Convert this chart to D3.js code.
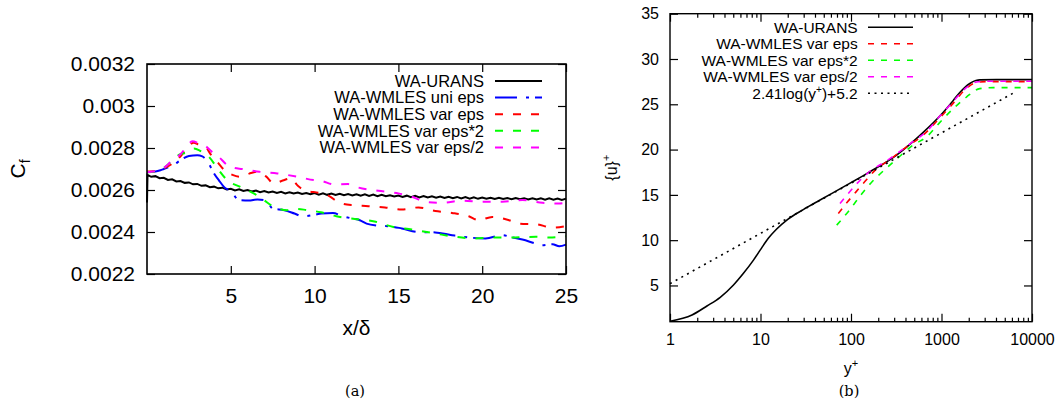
<!DOCTYPE html>
<html>
<head>
<meta charset="utf-8">
<script src="https://cdn.jsdelivr.net/npm/d3@7"></script>
<style>
  html, body { margin: 0; padding: 0; background: #fff; }
  svg { display: block; }
</style>
</head>
<body>
<svg id="fig" width="1061" height="401"></svg>
<script>
// ---------- Panel (a): skin friction coefficient vs x/delta ----------
const xDeltaTicks = [5, 10, 15, 20, 25];
const xDeltaTickLabels = ["5", "10", "15", "20", "25"];
const cfTicks = [0.0022, 0.0024, 0.0026, 0.0028, 0.003, 0.0032];
const cfTickLabels = ["0.0022", "0.0024", "0.0026", "0.0028", "0.003", "0.0032"];

const uransX = [0, 0.03, 0.25, 0.5, 0.75, 1, 1.25, 1.5, 1.75, 2, 2.25, 2.5, 2.75, 3, 3.25, 3.5, 3.75, 4,
  4.25, 4.5, 4.75, 5, 5.25, 5.5, 5.75, 6, 6.25, 6.5, 6.75, 7, 7.25, 7.5, 7.75, 8, 8.25, 8.5, 8.75, 9,
  9.25, 9.5, 9.75, 10, 10.25, 10.5, 10.75, 11, 11.25, 11.5, 11.75, 12, 12.25, 12.5, 12.75, 13,
  13.25, 13.5, 13.75, 14, 14.25, 14.5, 14.75, 15, 15.25, 15.5, 15.75, 16, 16.25, 16.5, 16.75, 17,
  17.25, 17.5, 17.75, 18, 18.25, 18.5, 18.75, 19, 19.25, 19.5, 19.75, 20, 20.25, 20.5, 20.75, 21,
  21.25, 21.5, 21.75, 22, 22.25, 22.5, 22.75, 23, 23.25, 23.5, 23.75, 24, 24.25, 24.5, 24.75, 25];
const uransCf = [0.002540, 0.002672, 0.002663, 0.002666, 0.002656, 0.002658, 0.002648, 0.002651, 0.002641, 0.002643,
  0.002634, 0.002636, 0.002627, 0.002629, 0.002620, 0.002622, 0.002613, 0.002616,
  0.002608, 0.002611, 0.002603, 0.002606, 0.002598, 0.002603, 0.002595, 0.002600,
  0.002593, 0.002597, 0.002590, 0.002595, 0.002588, 0.002593, 0.002586, 0.002591,
  0.002584, 0.002589, 0.002583, 0.002588, 0.002581, 0.002586, 0.002580, 0.002585,
  0.002578, 0.002584, 0.002577, 0.002583, 0.002576, 0.002582, 0.002575, 0.002581,
  0.002574, 0.002580, 0.002573, 0.002579, 0.002572, 0.002578, 0.002571, 0.002577,
  0.002570, 0.002575, 0.002569, 0.002574, 0.002567, 0.002573, 0.002566, 0.002572,
  0.002565, 0.002571, 0.002564, 0.002570, 0.002563, 0.002569, 0.002562, 0.002568,
  0.002561, 0.002567, 0.002560, 0.002566, 0.002559, 0.002565, 0.002558, 0.002564,
  0.002558, 0.002563, 0.002557, 0.002563, 0.002557, 0.002562, 0.002556, 0.002562,
  0.002556, 0.002561, 0.002555, 0.002561, 0.002555, 0.002560, 0.002554, 0.002560,
  0.002554, 0.002559, 0.002553, 0.002559];

const uniEpsX = [0, 0.5, 0.8, 1.0, 1.58, 2.08, 2.5, 3.0, 3.3, 3.68, 3.94, 4.3, 4.68, 5.0, 5.47, 6.07, 6.6, 7.1,
  7.5, 8.2, 8.8, 9.3, 10, 10.4, 11.1, 11.6, 12.2, 12.7, 13.1, 13.8, 14.6, 15.2, 16.2, 17.2, 18.2,
  19.2, 20.2, 21.2, 21.8, 22.4, 23.2, 23.6, 24.2, 24.6, 25];
const uniEpsCf = [0.002685, 0.002688, 0.002694, 0.002700, 0.002719, 0.002746, 0.002762, 0.002765, 0.002760,
  0.002727, 0.002687, 0.002645, 0.002608, 0.002597, 0.002552, 0.002550, 0.002555, 0.002550,
  0.002512, 0.002504, 0.002488, 0.002474, 0.002482, 0.002488, 0.002490, 0.002477, 0.002465,
  0.002456, 0.002440, 0.002430, 0.002426, 0.002417, 0.002400, 0.002398, 0.002385, 0.002374,
  0.002369, 0.002385, 0.002374, 0.002364, 0.002345, 0.002337, 0.002342, 0.002332, 0.002340];

const varEpsX = [0, 0.5, 1.0, 1.5, 2.0, 2.4, 2.78, 3.1, 3.48, 3.8, 4.18, 4.68, 5.1, 5.57, 6.1, 6.58, 7.1, 7.57,
  8.1, 8.57, 9.0, 9.37, 10.37, 10.9, 11.37, 12.2, 13.2, 14.2, 15.2, 16.2, 17.2, 18.2, 19.2, 19.8,
  20.6, 21.6, 22.2, 23.2, 24.2, 25];
const varEpsCf = [0.002688, 0.002690, 0.002703, 0.002725, 0.002760, 0.002800, 0.002825, 0.002815, 0.002806,
  0.002770, 0.002735, 0.002690, 0.002672, 0.002663, 0.002678, 0.002687, 0.002665, 0.002631,
  0.002645, 0.002655, 0.002620, 0.002600, 0.002584, 0.002570, 0.002544, 0.002528, 0.002523,
  0.002517, 0.002507, 0.002517, 0.002500, 0.002491, 0.002475, 0.002456, 0.002472, 0.002456,
  0.002440, 0.002437, 0.002421, 0.002428];

const varEps2X = [0, 0.5, 1.0, 1.5, 1.9, 2.4, 2.8, 3.2, 3.68, 4.28, 4.78, 5.57, 6.37, 6.97, 7.57, 8.37, 8.9,
  9.5, 10.37, 11.3, 12.2, 13.57, 14.7, 15.8, 17.2, 18.4, 19.6, 20.6, 21.6, 23.2, 24, 25];
const varEps2Cf = [0.002684, 0.002688, 0.002705, 0.002740, 0.002767, 0.002780, 0.002798, 0.002785, 0.002759,
  0.002695, 0.002647, 0.002615, 0.002584, 0.002552, 0.002520, 0.002504, 0.002510, 0.002505,
  0.002494, 0.002475, 0.002464, 0.002450, 0.002424, 0.002412, 0.002393, 0.002377, 0.002369,
  0.002374, 0.002374, 0.002377, 0.002374, 0.002380];

const varEpsHalfX = [0, 0.5, 1.0, 1.5, 2.0, 2.4, 2.7, 3.1, 3.48, 3.9, 4.28, 4.78, 5.2, 5.68, 6.7, 7.77, 8.97,
  9.97, 10.37, 11.2, 12.0, 12.6, 13.8, 15.0, 15.8, 16.6, 17.6, 18.8, 20.0, 21.2, 22.4, 23.6, 24.6, 25];
const varEpsHalfCf = [0.002684, 0.002690, 0.002705, 0.002740, 0.002770, 0.002810, 0.002832, 0.002822, 0.002810,
  0.002780, 0.002758, 0.002719, 0.002705, 0.002700, 0.002687, 0.002679, 0.002663, 0.002647,
  0.002644, 0.002626, 0.002628, 0.002612, 0.002596, 0.002584, 0.002568, 0.002544, 0.002539,
  0.002549, 0.002544, 0.002544, 0.002552, 0.002539, 0.002536, 0.002539];

const legendA = ["WA-URANS", "WA-WMLES uni eps", "WA-WMLES var eps", "WA-WMLES var eps*2", "WA-WMLES var eps/2"];

// ---------- Panel (b): mean velocity profile ----------
const yPlusTicks = [1, 10, 100, 1000, 10000];
const yPlusTickLabels = ["1", "10", "100", "1000", "10000"];
const uPlusTicks = [5, 10, 15, 20, 25, 30, 35];
const uPlusTickLabels = ["5", "10", "15", "20", "25", "30", "35"];

const uransYp = [1, 1.75, 2.56, 3.59, 5.03, 6.48, 8.36, 9.91, 12.2, 15, 20, 30, 45, 100, 149, 319,
  628, 1000, 1343, 1593, 2055, 2400, 2650, 4048, 10000];
const uransU = [1.05, 1.74, 2.73, 3.69, 5.05, 6.34, 7.8, 8.9, 10.2, 11.2, 12.3, 13.4, 14.4, 16.35, 17.35, 19.4,
  21.9, 23.9, 25.4, 26.3, 27.3, 27.62, 27.7, 27.72, 27.72];

const varEpsYp = [72.4, 89.7, 113.6, 143, 184, 269, 411, 628, 959, 1343, 1811, 2437, 3143, 10000];
const varEpsU = [12.95, 14.12, 15.33, 16.5, 17.7, 18.9, 20.3, 21.6, 23.5, 25.1, 26.6, 27.4, 27.5, 27.5];

const varEps2Yp = [69.5, 89.7, 110.7, 136.7, 169, 209, 332, 486, 684, 959, 1343, 1888, 2650, 3715, 10000];
const varEps2U = [11.66, 12.95, 14.12, 15.33, 16.4, 17.3, 19.1, 20.5, 21.4, 23.0, 24.5, 25.8, 26.73, 26.84, 26.84];

const varEpsHalfYp = [75.6, 93.4, 117.5, 149, 269, 486, 684, 959, 1343, 1811, 2437, 3000, 10000];
const varEpsHalfU = [14.05, 15.16, 16.3, 17.3, 19.0, 20.9, 22.0, 23.7, 25.3, 26.7, 27.46, 27.55, 27.55];

const logLawYp = [1, 6500];
const logLawU = [5.2, 26.35];

const legendB = ["WA-URANS", "WA-WMLES var eps", "WA-WMLES var eps*2", "WA-WMLES var eps/2"];

// ---------- drawing ----------
const FONT = "'Liberation Sans', Arial, Helvetica, sans-serif";
const SERIF = "'DejaVu Serif', 'Liberation Serif', serif";
const svg = d3.select("#fig");

function tidyAxis(g, size) {
  g.select(".domain").remove();
  g.selectAll("line").attr("stroke", "#000").attr("stroke-width", 1.2);
  g.selectAll("text").attr("font-family", FONT).attr("font-size", size).attr("fill", "#000");
  return g;
}

// ----- panel (a) -----
const A = { left: 147, right: 566, top: 64, bottom: 274 };
const xa = d3.scaleLinear().domain([0, 25]).range([A.left, A.right]);
const ya = d3.scaleLinear().domain([0.0022, 0.0032]).range([A.bottom, A.top]);
const gA = svg.append("g");

gA.append("g").attr("transform", `translate(0,${A.bottom})`)
  .call(d3.axisBottom(xa).tickValues(xDeltaTicks).tickSize(-8).tickPadding(14)
    .tickFormat((d, i) => xDeltaTickLabels[i]))
  .call(g => tidyAxis(g, 21));
gA.append("g").attr("transform", `translate(0,${A.top})`)
  .call(d3.axisTop(xa).tickValues(xDeltaTicks).tickSize(-8).tickFormat(""))
  .call(g => tidyAxis(g, 21));
gA.append("g").attr("transform", `translate(${A.left},0)`)
  .call(d3.axisLeft(ya).tickValues(cfTicks).tickSize(-8).tickPadding(12)
    .tickFormat((d, i) => cfTickLabels[i]))
  .call(g => tidyAxis(g, 21));
gA.append("g").attr("transform", `translate(${A.right},0)`)
  .call(d3.axisRight(ya).tickValues(cfTicks).tickSize(-8).tickFormat(""))
  .call(g => tidyAxis(g, 21));

const lineA = d3.line().x(d => xa(d[0])).y(d => ya(d[1]));
const lineASmooth = d3.line().x(d => xa(d[0])).y(d => ya(d[1])).curve(d3.curveMonotoneX);

const seriesA = [
  { pts: d3.zip(uransX, uransCf), color: "#000000", dash: null, gen: lineA },
  { pts: d3.zip(uniEpsX, uniEpsCf), color: "#0000ff", dash: "22,9,3,6", gen: lineASmooth },
  { pts: d3.zip(varEpsX, varEpsCf), color: "#ff0000", dash: "8,10", gen: lineASmooth },
  { pts: d3.zip(varEps2X, varEps2Cf), color: "#00ff00", dash: "8,10", gen: lineASmooth },
  { pts: d3.zip(varEpsHalfX, varEpsHalfCf), color: "#ff00ff", dash: "8,10", gen: lineASmooth }
];
seriesA.forEach(s => {
  gA.append("path").attr("d", s.gen(s.pts)).attr("fill", "none")
    .attr("stroke", s.color).attr("stroke-width", 2)
    .attr("stroke-dasharray", s.dash);
});

gA.append("rect").attr("x", A.left).attr("y", A.top)
  .attr("width", A.right - A.left).attr("height", A.bottom - A.top)
  .attr("fill", "none").attr("stroke", "#000").attr("stroke-width", 1.6);

// legend (a)
const legA = gA.append("g");
legendA.forEach((label, i) => {
  const y = 81 + i * 16.6;
  legA.append("text").attr("x", 484).attr("y", y).attr("dy", "0.35em")
    .attr("text-anchor", "end").attr("font-family", FONT).attr("font-size", 16.5)
    .attr("fill", "#000").text(label);
  legA.append("line").attr("x1", 495).attr("x2", 542).attr("y1", y).attr("y2", y)
    .attr("stroke", seriesA[i].color).attr("stroke-width", 2)
    .attr("stroke-dasharray", seriesA[i].dash);
});

// axis titles (a)
gA.append("text").attr("transform", `translate(25,${(A.top + A.bottom) / 2}) rotate(-90)`)
  .attr("text-anchor", "middle").attr("font-family", FONT).attr("font-size", 21).attr("fill", "#000")
  .call(t => { t.append("tspan").text("C"); t.append("tspan").attr("font-size", 14).attr("dy", 5).text("f"); });
gA.append("text").attr("x", (A.left + A.right) / 2).attr("y", 335)
  .attr("text-anchor", "middle").attr("font-family", FONT).attr("font-size", 21).attr("fill", "#000")
  .text("x/δ");
gA.append("text").attr("x", 355).attr("y", 396).attr("text-anchor", "middle")
  .attr("font-family", SERIF).attr("font-size", 14.5).attr("fill", "#000").text("(a)");

// ----- panel (b) -----
const B = { left: 670, right: 1032, top: 13.7, bottom: 321.7 };
const xb = d3.scaleLog().domain([1, 10000]).range([B.left, B.right]);
const yb = d3.scaleLinear().domain([1, 35]).range([B.bottom, B.top]);
const gB = svg.append("g");

const minorYp = [];
[1, 10, 100, 1000].forEach(dec => [2, 3, 4, 5, 6, 7, 8, 9].forEach(m => minorYp.push(dec * m)));

gB.append("g").attr("transform", `translate(0,${B.bottom})`)
  .call(d3.axisBottom(xb).tickValues(yPlusTicks).tickSize(-8).tickPadding(12)
    .tickFormat((d, i) => yPlusTickLabels[i]))
  .call(g => tidyAxis(g, 16));
gB.append("g").attr("transform", `translate(0,${B.bottom})`)
  .call(d3.axisBottom(xb).tickValues(minorYp).tickSize(-4).tickFormat(""))
  .call(g => tidyAxis(g, 16));
gB.append("g").attr("transform", `translate(0,${B.top})`)
  .call(d3.axisTop(xb).tickValues(yPlusTicks).tickSize(-8).tickFormat(""))
  .call(g => tidyAxis(g, 16));
gB.append("g").attr("transform", `translate(0,${B.top})`)
  .call(d3.axisTop(xb).tickValues(minorYp).tickSize(-4).tickFormat(""))
  .call(g => tidyAxis(g, 16));
gB.append("g").attr("transform", `translate(${B.left},0)`)
  .call(d3.axisLeft(yb).tickValues(uPlusTicks).tickSize(-8).tickPadding(11)
    .tickFormat((d, i) => uPlusTickLabels[i]))
  .call(g => tidyAxis(g, 16));
gB.append("g").attr("transform", `translate(${B.right},0)`)
  .call(d3.axisRight(yb).tickValues(uPlusTicks).tickSize(-8).tickFormat(""))
  .call(g => tidyAxis(g, 16));

const lineB = d3.line().x(d => xb(d[0])).y(d => yb(d[1])).curve(d3.curveMonotoneX);

const seriesB = [
  { pts: d3.zip(uransYp, uransU), color: "#000000", dash: null },
  { pts: d3.zip(varEpsYp, varEpsU), color: "#ff0000", dash: "6,7" },
  { pts: d3.zip(varEps2Yp, varEps2U), color: "#00ff00", dash: "6,7" },
  { pts: d3.zip(varEpsHalfYp, varEpsHalfU), color: "#ff00ff", dash: "6,7" },
  { pts: d3.zip(logLawYp, logLawU), color: "#000000", dash: "2,4.5" }
];
seriesB.forEach(s => {
  gB.append("path").attr("d", lineB(s.pts)).attr("fill", "none")
    .attr("stroke", s.color).attr("stroke-width", 1.6)
    .attr("stroke-dasharray", s.dash);
});

gB.append("rect").attr("x", B.left).attr("y", B.top)
  .attr("width", B.right - B.left).attr("height", B.bottom - B.top)
  .attr("fill", "none").attr("stroke", "#000").attr("stroke-width", 1.4);

// legend (b)
const legB = gB.append("g");
seriesB.forEach((s, i) => {
  const y = 27.3 + i * 16.5;
  const t = legB.append("text").attr("x", 857.7).attr("y", y).attr("dy", "0.35em")
    .attr("text-anchor", "end").attr("font-family", FONT).attr("font-size", 15.5).attr("fill", "#000");
  if (i < legendB.length) {
    t.text(legendB[i]);
  } else {
    t.append("tspan").text("2.41log(y");
    t.append("tspan").attr("font-size", 10).attr("dy", -6).text("+");
    t.append("tspan").attr("dy", 6).text(")+5.2");
  }
  legB.append("line").attr("x1", 868).attr("x2", 913).attr("y1", y).attr("y2", y)
    .attr("stroke", s.color).attr("stroke-width", 1.6)
    .attr("stroke-dasharray", s.dash);
});

// axis titles (b)
gB.append("text").attr("transform", `translate(617,${(B.top + B.bottom) / 2}) rotate(-90)`)
  .attr("text-anchor", "middle").attr("font-family", FONT).attr("font-size", 16).attr("fill", "#000")
  .call(t => { t.append("tspan").text("{u}"); t.append("tspan").attr("font-size", 11).attr("dy", -7).text("+"); });
gB.append("text").attr("x", (B.left + B.right) / 2).attr("y", 374)
  .attr("text-anchor", "middle").attr("font-family", FONT).attr("font-size", 16).attr("fill", "#000")
  .call(t => { t.append("tspan").text("y"); t.append("tspan").attr("font-size", 11).attr("dy", -7).text("+"); });
gB.append("text").attr("x", 849).attr("y", 396).attr("text-anchor", "middle")
  .attr("font-family", SERIF).attr("font-size", 14.5).attr("fill", "#000").text("(b)");
</script>
</body>
</html>
